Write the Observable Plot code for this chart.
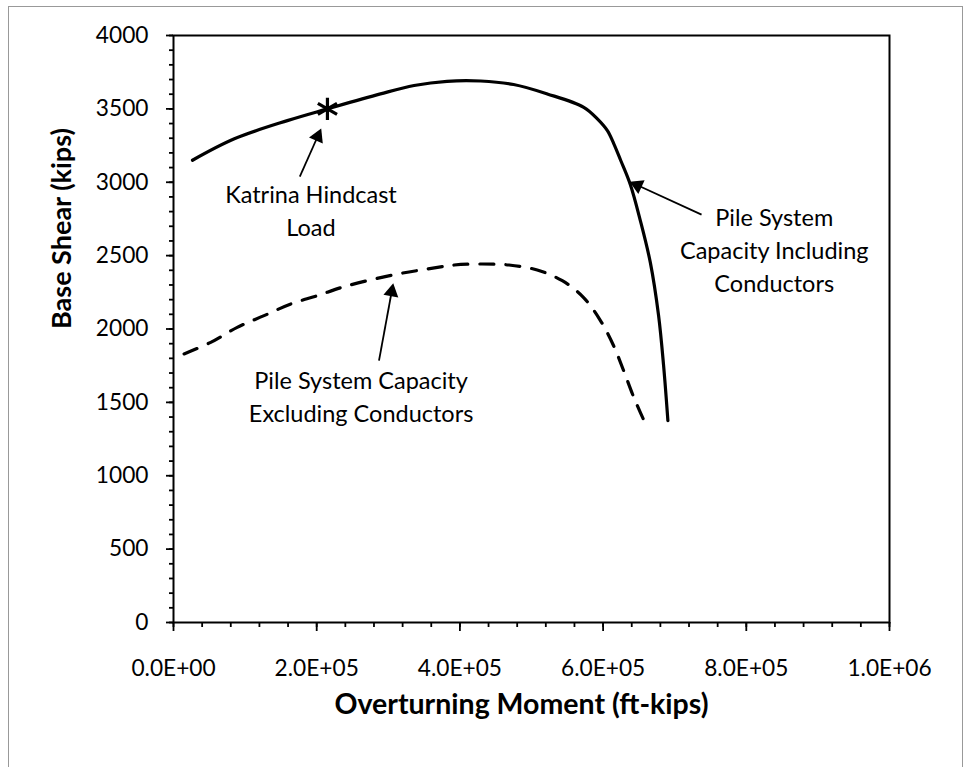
<!DOCTYPE html>
<html>
<head>
<meta charset="utf-8">
<script src="https://cdn.jsdelivr.net/npm/d3@7"></script>
<script src="https://cdn.jsdelivr.net/npm/@observablehq/plot@0.6"></script>
<style>
html, body { margin: 0; padding: 0; background: #fff; overflow: hidden; }
#wrap { position: relative; width: 968px; height: 767px; }
#chart { position: absolute; left: 0; top: 0; }
#border { position: absolute; left: 8px; top: 6px; width: 955px; height: 800px; border: 1px solid #999; box-sizing: border-box; pointer-events: none; }
</style>
</head>
<body>
<div id="wrap"><div id="chart"></div><div id="border"></div></div>
<script>
// ---- data ----
const includingMoment = [26500, 85000, 159000, 215000, 289000, 336000, 382000, 429000, 475000, 522000, 573000, 592000, 606000, 615000, 624500, 638000, 652000, 666000, 677500, 684500, 690500];
const includingShear  = [3150, 3296, 3420, 3500, 3602, 3659, 3688, 3690, 3666, 3602, 3511, 3432, 3352, 3262, 3150, 2985, 2739, 2452, 2091, 1750, 1375];

const excludingMoment = [14800, 52000, 89000, 126500, 164000, 201000, 238000, 308000, 354600, 392000, 429000, 468500, 508000, 543000, 572800, 596500, 614700, 628700, 642600, 659400, 664000];
const excludingShear  = [1830, 1909, 2011, 2091, 2171, 2227, 2288, 2370, 2409, 2436, 2443, 2436, 2402, 2329, 2214, 2056, 1886, 1716, 1538, 1354, 1318];

const katrinaMoment = [215000];
const katrinaShear  = [3500];

const labelText   = ["Katrina Hindcast\nLoad", "Pile System\nCapacity Including\nConductors", "Pile System Capacity\nExcluding Conductors"];
const labelMoment = [192000, 839000, 262000];
const labelShear  = [2815, 2548, 1550];
const arrowTailMoment = [176400, 737500, 287000];
const arrowTailShear  = [3038, 2779, 1784];
const arrowTipMoment  = [206300, 637000, 306900];
const arrowTipShear   = [3366, 3004, 2312];

const xTicks = [0, 200000, 400000, 600000, 800000, 1000000];
const xTickLabels = ["0.0E+00", "2.0E+05", "4.0E+05", "6.0E+05", "8.0E+05", "1.0E+06"];
const xMinorTicks = d3.range(0, 1000001, 40000);
const yTicks = [0, 500, 1000, 1500, 2000, 2500, 3000, 3500, 4000];
const yTickLabels = ["0", "500", "1000", "1500", "2000", "2500", "3000", "3500", "4000"];
const yMinorTicks = d3.range(0, 4001, 100);

const xTitle = "Overturning Moment (ft-kips)";
const yTitle = "Base Shear (kips)";

// ---- layout / style ----
const W = 968, H = 767;
const layout = { width: W, height: H, marginLeft: 173, marginRight: 79, marginTop: 35, marginBottom: 145 };
const font = "Lato, 'Open Sans', sans-serif";
const triR = 5.6;

function baseMarks() {
  return [
    Plot.axisX({ ticks: xMinorTicks, tickSize: 5, tickFormat: () => "", strokeWidth: 1.8, label: null }),
    Plot.axisX({ ticks: xTicks, tickSize: 9, tickPadding: 28, strokeWidth: 1.8, fontSize: 22.7, label: null,
                 tickFormat: d => xTickLabels[xTicks.indexOf(d)] }),
    Plot.axisY({ ticks: yMinorTicks, tickSize: 4, tickFormat: () => "", strokeWidth: 1.8, label: null }),
    Plot.axisY({ ticks: yTicks, tickSize: 7, tickPadding: 18, strokeWidth: 1.8, fontSize: 22.7, label: null,
                 tickFormat: d => yTickLabels[yTicks.indexOf(d)] }),
    Plot.frame({ stroke: "black", strokeWidth: 2 })
  ];
}

const common = {
  ...layout,
  style: { fontFamily: font, background: "white", color: "black" },
  x: { domain: [0, 1000000] },
  y: { domain: [0, 4000] }
};

// probe render to obtain the scales for arrow-head geometry
const probe = Plot.plot({ ...common, marks: baseMarks() });
const sx = probe.scale("x"), sy = probe.scale("y");

const triY = Math.sqrt(Math.PI * triR * triR / (3 * Math.sqrt(3)));
const heads = d3.range(3).map(i => {
  const tx = sx.apply(arrowTipMoment[i]), ty = sy.apply(arrowTipShear[i]);
  const ax = sx.apply(arrowTailMoment[i]), ay = sy.apply(arrowTailShear[i]);
  const len = Math.hypot(tx - ax, ty - ay);
  const ux = (tx - ax) / len, uy = (ty - ay) / len;
  const cx = tx - ux * 2 * triY, cy = ty - uy * 2 * triY;
  return {
    cx: sx.invert(cx), cy: sy.invert(cy),
    angle: Math.atan2(ux, -uy) * 180 / Math.PI
  };
});

const idx = n => d3.range(n);

const chart = Plot.plot({
  ...common,
  marks: [
    ...baseMarks(),
    Plot.line(idx(includingMoment.length), {
      x: i => includingMoment[i], y: i => includingShear[i],
      curve: "catmull-rom", stroke: "black", strokeWidth: 3.2
    }),
    Plot.line(idx(excludingMoment.length), {
      x: i => excludingMoment[i], y: i => excludingShear[i],
      curve: "catmull-rom", stroke: "black", strokeWidth: 3.2, strokeDasharray: "14,12"
    }),
    Plot.dot(idx(1), {
      x: i => katrinaMoment[i], y: i => katrinaShear[i],
      symbol: "asterisk", r: 10.5, stroke: "black", strokeWidth: 3.2
    }),
    Plot.link(idx(3), {
      x1: i => arrowTailMoment[i], y1: i => arrowTailShear[i],
      x2: i => heads[i].cx, y2: i => heads[i].cy,
      stroke: "black", strokeWidth: 1.8
    }),
    Plot.dot(idx(3), {
      x: i => heads[i].cx, y: i => heads[i].cy, rotate: i => heads[i].angle,
      symbol: "triangle", r: triR, fill: "black", stroke: "none"
    }),
    Plot.text(idx(3), {
      x: i => labelMoment[i], y: i => labelShear[i], text: i => labelText[i],
      fontSize: 23.5, lineHeight: 1.4, textAnchor: "middle", fill: "black"
    }),
    Plot.text([xTitle], { frameAnchor: "bottom", lineAnchor: "middle", dx: -10, dy: 82, fontWeight: "bold", fontSize: 28.5, fill: "black" }),
    Plot.text([yTitle], { frameAnchor: "left", lineAnchor: "middle", dx: -111, rotate: -90, fontWeight: "bold", fontSize: 27, fill: "black" })
  ]
});

document.getElementById("chart").appendChild(chart);
</script>
</body>
</html>
